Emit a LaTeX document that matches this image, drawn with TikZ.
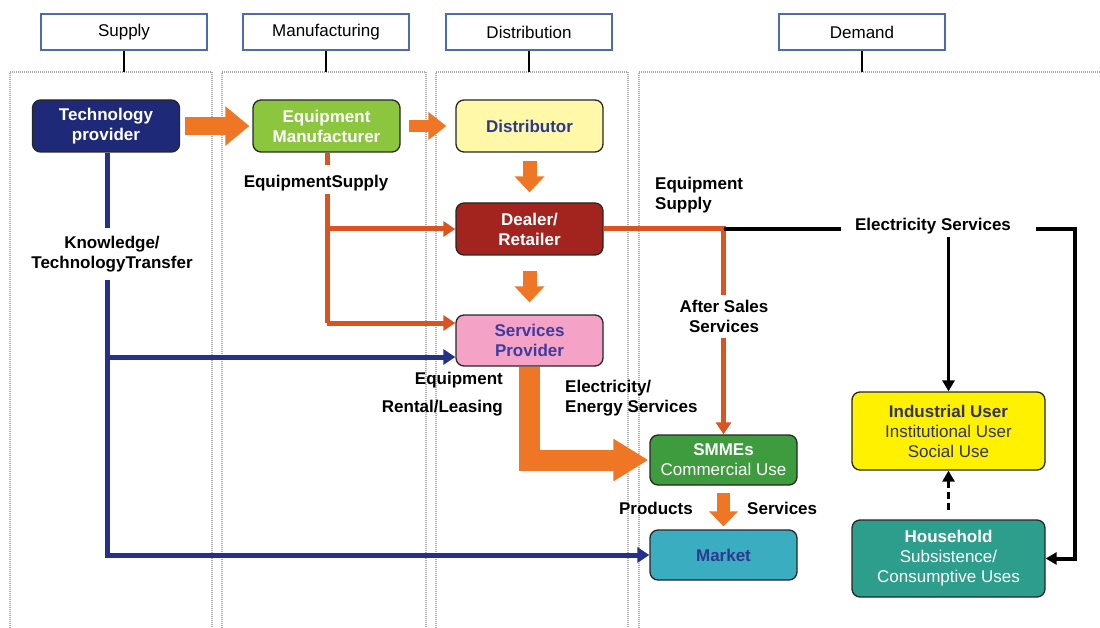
\documentclass[tikz,border=0pt]{standalone}
\usepackage{fontspec}
\setmainfont{Liberation Sans}
\usetikzlibrary{arrows.meta}
\definecolor{tpblue}{HTML}{1E2A78}
\definecolor{emgreen}{HTML}{8CC63F}
\definecolor{diyellow}{HTML}{FFF8A8}
\definecolor{drred}{HTML}{A3241E}
\definecolor{sppink}{HTML}{F4A3C6}
\definecolor{smgreen}{HTML}{3E9B3E}
\definecolor{mkteal}{HTML}{3AAEC0}
\definecolor{iuyellow}{HTML}{FFF100}
\definecolor{hhteal}{HTML}{2E9E8C}
\definecolor{fatorange}{HTML}{EE7624}
\definecolor{thinorange}{HTML}{D9541F}
\definecolor{linkblue}{HTML}{24308A}
\definecolor{hdrblue}{HTML}{4F6BB0}
\definecolor{textblue}{HTML}{2B3990}
\definecolor{sptext}{HTML}{3C3CA0}
\definecolor{iutext}{HTML}{333355}
\begin{document}
\begin{tikzpicture}[x=1pt,y=-1pt,
  font=\fontsize{17}{20}\selectfont,
  hdr/.style={draw=hdrblue, line width=1.5pt, fill=white, minimum width=166pt, minimum height=36pt, inner sep=0pt},
  panel/.style={draw=gray!65, dash pattern=on 1pt off 1pt, line width=1.2pt},
  box/.style={draw=black!85, line width=1.3pt, rounded corners=8pt, minimum width=147pt, minimum height=52pt, align=center, inner sep=2pt, font=\fontsize{17}{20}\selectfont\bfseries},
  lbl/.style={font=\fontsize{17}{20}\selectfont\bfseries, inner sep=0pt},
  fat/.style={draw=fatorange, line join=miter},
  orl/.style={draw=thinorange, line width=5pt},
  bl/.style={draw=linkblue, line width=5pt},
  blk/.style={draw=black, line width=4pt},
  tipb/.style={-{Triangle[length=12pt,width=15pt]}},
  tipk/.style={-{Triangle[length=11pt,width=12pt]}}
]
\useasboundingbox (0,0) rectangle (1100,628);
% panels
\draw[panel] (10,640) |- (212,72) -- (212,640);
\draw[panel] (222,640) |- (426,72) -- (426,640);
\draw[panel] (436,640) |- (628,72) -- (628,640);
\draw[panel] (639,640) |- (1110,72);
\coordinate (ptop) at (0,72);
% headers
\node[hdr] (hS) at (124,32) {Supply};
\node[hdr] (hM) at (326,32) {Manufacturing};
\node[hdr] (hD) at (529,32) {Distribution};
\node[hdr] (hDe) at (862,32) {Demand};
\foreach \h in {hS,hM,hD,hDe} \draw[line width=1.2pt] (\h.south) -- (\h.south |- ptop);
% boxes
\node[box, fill=tpblue, text=white] (TP) at (106,126) {Technology\\provider};
\node[box, fill=emgreen, text=white] (EM) at (326.5,126) {Equipment\\Manufacturer};
\node[box, fill=diyellow, text=textblue] (DI) at (529.5,126) {Distributor};
\node[box, fill=drred, text=white] (DR) at (529.5,229) {Dealer/\\Retailer};
\node[box, fill=sppink, text=sptext, minimum height=51pt] (SP) at (529.5,340.5) {Services\\Provider};
\node[box, fill=smgreen, text=white, minimum height=50pt] (SM) at (723.5,460) {SMMEs\\\mdseries Commercial Use};
\node[box, fill=mkteal, text=textblue, minimum height=50pt] (MK) at (723.5,555) {Market};
\node[box, fill=iuyellow, text=iutext, minimum width=193pt, minimum height=78pt] (IU) at (948.5,431) {Industrial User\\\mdseries Institutional User\\\mdseries Social Use};
\node[box, fill=hhteal, text=white, minimum width=193pt, minimum height=77pt] (HH) at (948.5,558.5) {Household\\\mdseries Subsistence/\\\mdseries Consumptive Uses};
% labels
\node[lbl, align=center] (eqs) at (316,183) {EquipmentSupply};
\node[lbl, align=center] (kt) at (112,254) {Knowledge/\\TechnologyTransfer};
\node[lbl, align=left, anchor=west] (eqs2) at (655,195) {Equipment\\Supply};
\node[lbl] (es) at (933,226) {Electricity Services};
\node[lbl, align=center] (as) at (724,316) {After Sales\\Services};
\node[lbl, align=right, anchor=east] (rl) at (503,394) {Equipment\\[8pt]Rental/Leasing};
\node[lbl, align=left, anchor=west] (ee) at (565,398) {Electricity/\\Energy Services};
\node[lbl, anchor=east] (pr) at (693,508) {Products};
\node[lbl, anchor=west] (sv) at (747,508) {Services};
% coordinates
\coordinate (j1) at (327,229);
\coordinate (e1) at (327,194);
\coordinate (j2) at (327,323);
\coordinate (j3) at (723.5,229);
\coordinate (a1) at (723.5,295);
\coordinate (a2) at (723.5,338);
\coordinate (k1) at (841,229);
\coordinate (k2) at (1036,229);
\coordinate (k3) at (1075,229);
\coordinate (k4) at (1075,558.5);
\coordinate (k5) at (948.5,237);
\coordinate (b0) at (107,228);
\coordinate (b1) at (107,280);
\coordinate (b2) at (107,357);
\coordinate (b3) at (107,555);
% fat orange arrows
\draw[fat, line width=18pt, shorten <=5pt, shorten >=3pt, -{Triangle[length=24pt,width=38pt]}] (TP.east) -- (EM.west);
\draw[fat, line width=12pt, shorten <=8pt, shorten >=9pt, -{Triangle[length=18pt,width=27pt]}] (EM.east) -- (DI.west);
\draw[fat, line width=14pt, shorten <=8pt, shorten >=10pt, -{Triangle[length=16pt,width=29pt]}] (DI.south) -- (DR.north);
\draw[fat, line width=14pt, shorten <=15pt, shorten >=12pt, -{Triangle[length=16pt,width=29pt]}] (DR.south) -- (SP.north);
\draw[fat, line width=21pt, shorten >=1pt, -{Triangle[length=35pt,width=40pt]}] (SP.south) |- (SM.west);
\draw[fat, line width=13pt, shorten <=7pt, shorten >=3pt, -{Triangle[length=15pt,width=28pt]}] (SM.south) -- (MK.north);
% thin orange
\draw[orl] (EM.south -| j1) -- ++(0,12);
\draw[orl] (e1) -- (j2);
\draw[orl, tipb] (j1) -- (DR.west);
\draw[orl, tipb] (j2) -- (j2 -| SP.west);
\draw[orl] (DR.east) -- (j3) -- (a1);
\draw[orl, tipb] (a2) -- (SM.north);
% black
\draw[blk] (j3) -- (k1);
\draw[blk, tipk] (k2) -- (k3) -- (k4) -- (HH.east);
\draw[blk, line width=3.5pt, tipk] (k5) -- (IU.north);
\draw[blk, line width=3.5pt, dash pattern=on 7pt off 4pt, shorten <=9pt, tipk] (HH.north) -- (IU.south);
% blue
\draw[bl] (TP.south -| b0) -- (b0);
\draw[bl, tipb] (b1) -- (b3) -- (MK.west);
\draw[bl, tipb] (b2) -- (b2 -| SP.west);
\end{tikzpicture}
\end{document}
